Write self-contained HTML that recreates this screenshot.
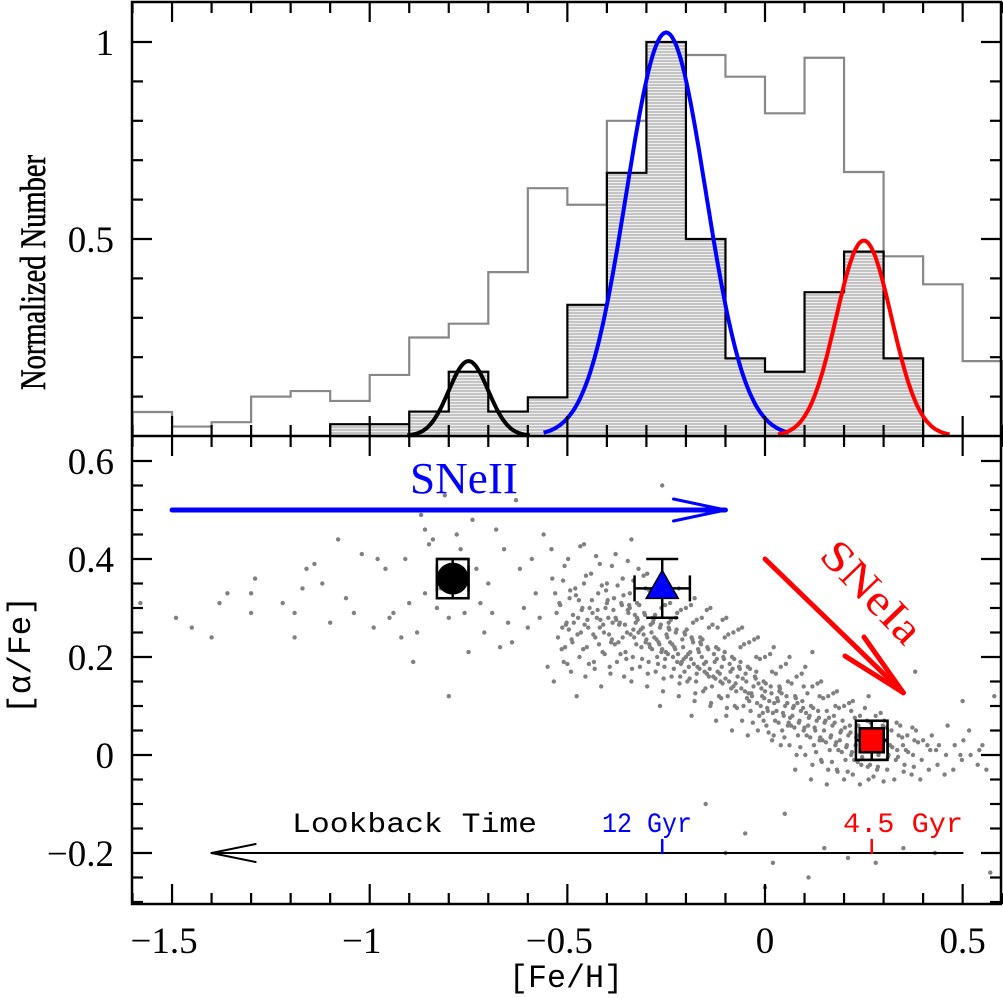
<!DOCTYPE html>
<html><head><meta charset="utf-8">
<style>
html,body{margin:0;padding:0;background:#fff;}
svg{display:block;}
text{font-family:"Liberation Serif",serif;}
.mono{font-family:"Liberation Mono",monospace;}
</style></head>
<body>
<svg id="chart" width="1003" height="998" viewBox="0 0 1003 998" xmlns="http://www.w3.org/2000/svg">
<defs>
<pattern id="hatch" patternUnits="userSpaceOnUse" width="8" height="3">
<rect width="8" height="3" fill="#c4c4c4"/><rect y="2" width="8" height="1" fill="#eeeeee"/>
</pattern>
</defs>
<g id="top-panel"></g>
<g id="bottom-panel"></g>
<g id="axes"></g>
</svg>
<script>
// ---------- data ----------
const histStart = -1.6;
const histBinWidth = 0.1;
const fullSampleHist = [0.061,0.024,0.035,0.10,0.114,0.089,0.155,0.25,0.285,0.416,0.629,0.587,0.80,0.95,0.967,0.912,0.819,0.96,0.67,0.456,0.385,0.19];
const subStart = -1.1;
const subSampleHist = [0.03,0.03,0.062,0.163,0.062,0.098,0.333,0.668,1.0,0.5,0.197,0.163,0.365,0.468,0.197];
const gaussCenters = [-0.75,-0.25,0.25];
const gaussAmps = [0.19,1.024,0.496];
const gaussSigmas = [0.05,0.1,0.07];
const gaussColors = ["#000","#0000ff","#ff0000"];
const xTicks = [-1.5,-1,-0.5,0,0.5];
const xTickLabels = ["\u22121.5","\u22121","\u22120.5","0","0.5"];
const topYTicks = [0.5,1];
const topYTickLabels = ["0.5","1"];
const botYTicks = [-0.2,0,0.2,0.4,0.6];
const botYTickLabels = ["\u22120.2","0","0.2","0.4","0.6"];
const sparseStars = [[-1.58,0.31],[-1.49,0.28],[-1.45,0.26],[-1.40,0.24],[-1.38,0.31],[-1.36,0.33],[-1.30,0.33],[-1.30,0.29],[-1.29,0.36],[-1.22,0.31],[-1.19,0.29],[-1.19,0.24],[-1.17,0.34],[-1.16,0.38],[-1.14,0.39],[-1.12,0.35],[-1.10,0.27],[-1.08,0.44],[-1.06,0.32],[-1.04,0.29],[-1.02,0.41],[-1.00,0.50],[-0.99,0.26],[-0.98,0.40],[-0.96,0.38],[-0.95,0.28],[-0.94,0.29],[-0.92,0.24],[-0.91,0.40],[-0.90,0.31],[-0.89,0.19],[-0.88,0.25],[-0.87,0.49],[-0.86,0.46],[-0.86,0.33],[-0.85,0.43],[-0.84,0.44],[-0.83,0.30],[-0.82,0.34],[-0.81,0.53],[-0.80,0.28],[-0.78,0.45],[-0.77,0.42],[-0.75,0.21],[-0.74,0.48],[-0.73,0.38],[-0.72,0.31],[-0.71,0.25],[-0.70,0.50],[-0.69,0.29],[-0.68,0.46],[-0.67,0.22],[-0.66,0.42],[-0.65,0.27],[-0.64,0.23],[-0.63,0.52],[-0.62,0.38],[-0.61,0.30],[-0.60,0.26],[-0.80,0.12],[-0.58,0.33],[-0.57,0.28],[-0.56,0.45],[-0.55,0.18],[-0.59,0.40],[-0.54,0.42],[-0.70,0.35],[-0.76,0.29],
[0.02,-0.22],[-0.10,-0.20],[0.15,-0.19],[0.21,-0.21],[0.35,-0.19],[0.43,-0.20],[0.57,-0.24],[-0.05,-0.16],[0.00,-0.27],[0.11,-0.25],[-0.26,0.55],[0.55,0.02],[0.58,0.12],[0.50,0.11],[0.38,0.17],[0.12,0.21],[-0.15,-0.10],[0.05,-0.12],[0.28,-0.22]];
const binFeH = [-0.52,-0.48,-0.44,-0.40,-0.36,-0.32,-0.28,-0.24,-0.20,-0.16,-0.12,-0.08,-0.04,0.00,0.04,0.08,0.12,0.16,0.20,0.24,0.28,0.32,0.36,0.40,0.44,0.48,0.52,0.56];
const binAlpha = [
[0.36,0.31,0.27,0.24,0.22,0.29,0.19,0.33,0.26,0.15],
[0.40,0.34,0.30,0.27,0.25,0.23,0.20,0.17,0.28,0.32,0.12],
[0.43,0.37,0.33,0.30,0.28,0.26,0.24,0.22,0.19,0.16,0.29,0.35],
[0.39,0.35,0.32,0.30,0.27,0.25,0.23,0.21,0.18,0.14,0.28,0.26,0.31],
[0.41,0.36,0.33,0.31,0.29,0.27,0.25,0.23,0.21,0.19,0.16,0.28,0.24,0.30],
[0.44,0.38,0.34,0.31,0.29,0.27,0.26,0.24,0.22,0.20,0.18,0.15,0.25,0.23,0.28],
[0.37,0.33,0.30,0.28,0.26,0.25,0.23,0.22,0.20,0.19,0.17,0.14,0.24,0.21,0.27,0.10],
[0.35,0.31,0.29,0.27,0.25,0.24,0.22,0.21,0.20,0.18,0.16,0.13,0.23,0.19,0.26,0.28],
[0.34,0.30,0.27,0.25,0.24,0.22,0.21,0.19,0.18,0.16,0.15,0.12,0.20,0.23,0.17,0.08],
[0.32,0.28,0.26,0.24,0.22,0.21,0.19,0.18,0.17,0.15,0.13,0.11,0.20,0.16,0.23],
[0.30,0.26,0.24,0.22,0.20,0.19,0.18,0.16,0.15,0.14,0.12,0.10,0.17,0.21,0.07],
[0.28,0.25,0.22,0.20,0.18,0.17,0.16,0.15,0.13,0.12,0.10,0.08,0.14,0.19,0.05],
[0.26,0.23,0.20,0.18,0.16,0.15,0.14,0.13,0.12,0.10,0.09,0.07,0.11,0.17,0.04],
[0.24,0.20,0.17,0.15,0.14,0.12,0.11,0.10,0.09,0.08,0.06,0.05,0.13,0.03,0.07],
[0.22,0.18,0.15,0.13,0.12,0.11,0.10,0.09,0.08,0.07,0.05,0.04,0.02,0.06,0.14],
[0.20,0.16,0.14,0.12,0.11,0.10,0.09,0.08,0.07,0.06,0.04,0.02,0.00,0.05,-0.03],
[0.18,0.14,0.12,0.10,0.09,0.08,0.07,0.06,0.05,0.04,0.02,0.00,-0.02,0.03,-0.05],
[0.15,0.12,0.10,0.09,0.08,0.07,0.06,0.05,0.04,0.03,0.01,-0.01,-0.03,0.02,-0.06],
[0.13,0.10,0.09,0.07,0.06,0.05,0.04,0.03,0.02,0.01,-0.01,-0.03,-0.05,0.00],
[0.11,0.08,0.07,0.06,0.05,0.04,0.03,0.02,0.01,-0.01,-0.02,-0.04,-0.06],
[0.12,0.08,0.06,0.05,0.04,0.03,0.02,0.01,0.00,-0.02,-0.03,-0.05],
[0.07,0.05,0.04,0.02,0.01,0.00,-0.01,-0.03,-0.05,0.03],
[0.06,0.04,0.03,0.01,0.00,-0.02,-0.04,0.02],
[0.05,0.03,0.01,-0.01,-0.03,-0.05,0.02],
[0.04,0.02,0.00,-0.02,-0.04,0.01],
[0.06,0.02,-0.01,-0.03,0.00],
[0.03,0.00,-0.02,0.05],
[0.01,-0.03]];
const binFeH2 = [-0.50,-0.46,-0.42,-0.38,-0.34,-0.30,-0.26,-0.22,-0.18,-0.14,-0.10,-0.06,-0.02,0.02,0.06,0.10,0.14,0.18,0.22,0.26,0.30,0.34,0.38];
const binAlpha2 = [
[0.38,0.33,0.30,0.26,0.23,0.21,0.18,0.28,0.35,0.25],
[0.42,0.36,0.32,0.29,0.27,0.24,0.21,0.18,0.31,0.26],
[0.40,0.34,0.31,0.29,0.26,0.24,0.22,0.20,0.17,0.27,0.33],
[0.38,0.34,0.31,0.29,0.26,0.24,0.22,0.20,0.16,0.27,0.30,0.23],
[0.39,0.35,0.32,0.30,0.28,0.26,0.24,0.22,0.19,0.17,0.27,0.29,0.25],
[0.36,0.33,0.30,0.28,0.26,0.25,0.23,0.21,0.19,0.16,0.27,0.24,0.22],
[0.33,0.30,0.28,0.26,0.24,0.23,0.21,0.20,0.18,0.15,0.25,0.22,0.19],
[0.32,0.29,0.27,0.25,0.23,0.22,0.20,0.19,0.17,0.14,0.24,0.21,0.18],
[0.30,0.27,0.25,0.23,0.21,0.20,0.18,0.17,0.15,0.12,0.22,0.19,0.16],
[0.29,0.26,0.23,0.21,0.20,0.18,0.17,0.15,0.13,0.10,0.19,0.16],
[0.27,0.24,0.21,0.19,0.18,0.16,0.15,0.13,0.11,0.09,0.17,0.14],
[0.25,0.22,0.19,0.17,0.16,0.14,0.13,0.11,0.09,0.15,0.12],
[0.23,0.19,0.17,0.15,0.13,0.12,0.10,0.08,0.06,0.14,0.11],
[0.20,0.16,0.14,0.12,0.11,0.09,0.08,0.06,0.04,0.10,0.13],
[0.18,0.14,0.12,0.10,0.09,0.08,0.06,0.05,0.03,0.07,0.11],
[0.16,0.12,0.10,0.09,0.07,0.06,0.05,0.03,0.01,0.08],
[0.14,0.11,0.09,0.07,0.06,0.05,0.03,0.02,0.00,-0.02],
[0.12,0.09,0.07,0.06,0.04,0.03,0.02,0.00,-0.02,-0.04],
[0.10,0.07,0.05,0.04,0.03,0.01,0.00,-0.02,-0.04],
[0.09,0.06,0.04,0.02,0.01,-0.01,-0.03,-0.05],
[0.08,0.05,0.03,0.01,-0.01,-0.03,-0.06],
[0.06,0.03,0.01,-0.01,-0.04],
[0.05,0.02,0.00,-0.03]];
const markerFeH = [-0.79,-0.26,0.27];
const markerAlpha = [0.36,0.34,0.03];
const markerErrFeH = [0.04,0.07,0.04];
const markerErrAlpha = [0.04,0.06,0.04];

// ---------- scales ----------
const X = f => 765 + f*395.3;
const YT = v => 436 - v*394;
const YB = a => 755 - a*490;
const NS = "http://www.w3.org/2000/svg";
function mk(tag, attrs, parent){
  const e = document.createElementNS(NS, tag);
  for (const k in attrs) e.setAttribute(k, attrs[k]);
  parent.appendChild(e);
  return e;
}
const topG = document.getElementById('top-panel');
const botG = document.getElementById('bottom-panel');
const axesG = document.getElementById('axes');

// ---------- histograms ----------
function stepPath(start, vals, closed){
  let d = "M" + X(start) + "," + YT(0);
  vals.forEach((v,i)=>{
    const x0 = X(start + i*histBinWidth), x1 = X(start + (i+1)*histBinWidth);
    d += " L" + x0 + "," + YT(v) + " L" + x1 + "," + YT(v);
  });
  d += " L" + X(start + vals.length*histBinWidth) + "," + YT(0);
  if (closed) d += " Z";
  return d;
}
let gp = mk('path', {d: stepPath(histStart, fullSampleHist, false), fill:'none', stroke:'#888', 'stroke-width':2.2}, topG);


let bp = mk('path', {d: stepPath(subStart, subSampleHist, true), fill:'url(#hatch)', stroke:'#000', 'stroke-width':2.2}, topG);


gaussCenters.forEach((c,i)=>{
  let d = "";
  const s = gaussSigmas[i];
  for (let k=0;k<=120;k++){
    const f = c - 3.1*s + k*(6.2*s/120);
    const v = gaussAmps[i]*Math.exp(-(f-c)*(f-c)/(2*s*s));
    d += (k?" L":"M") + X(f).toFixed(1) + "," + YT(v).toFixed(1);
  }
  const g = mk('path', {d:d, fill:'none', stroke:gaussColors[i], 'stroke-width':4}, topG);
  
  
});

// ---------- stars ----------
const starsG = mk('g', {fill:'#808080'}, botG);


function dot(f,a){
  const cx = X(f), cy = YB(a);
  if (cx < 134 || cx > 999 || cy < 438 || cy > 902) return;
  const c = mk('circle', {cx:cx.toFixed(1), cy:cy.toFixed(1), r:2.2}, starsG);
  
  
}
sparseStars.forEach(p=>dot(p[0],p[1]));
binFeH.forEach((f,b)=>{
  binAlpha[b].forEach((a,i)=>{ dot(f + ((i*5)%11 - 5)*0.0036, a); });
});
binFeH2.forEach((f,b)=>{
  binAlpha2[b].forEach((a,i)=>{ dot(f + ((i*4+3)%11 - 5)*0.0036, a + 0.006); });
});

// ---------- arrows & annotations ----------
function line(x1,y1,x2,y2,stroke,w,parent,name){
  const l = mk('line',{x1:x1,y1:y1,x2:x2,y2:y2,stroke:stroke,'stroke-width':w,'stroke-linecap':'round'},parent);
  
  
  return l;
}
line(X(-1.5),YB(0.5),X(-0.1),YB(0.5),'#0000ff',5,botG,'sneii-arrow');
line(X(-0.1),YB(0.5),X(-0.1)-52,YB(0.5)-11,'#0000ff',3,botG,'sneii-arrow-head');
line(X(-0.1),YB(0.5),X(-0.1)-52,YB(0.5)+11,'#0000ff',3,botG,'sneii-arrow-head');
line(X(0),YB(0.4),X(0.35),YB(0.127),'#ff0000',5,botG,'sneia-arrow');
line(X(0.35),YB(0.127),845,656,'#ff0000',5,botG,'sneia-arrow-head');
line(X(0.35),YB(0.127),864,637,'#ff0000',5,botG,'sneia-arrow-head');
line(X(-1.4),YB(-0.2),X(0.5),YB(-0.2),'#000',2,botG,'lookback-arrow');
line(X(-1.4),YB(-0.2),X(-1.4)+44,YB(-0.2)-9,'#000',2,botG,'lookback-arrow-head');
line(X(-1.4),YB(-0.2),X(-1.4)+44,YB(-0.2)+9,'#000',2,botG,'lookback-arrow-head');
line(X(-0.26),YB(-0.2)-13,X(-0.26),YB(-0.2),'#0000ff',2.5,botG,'age-tick-12gyr');
line(X(0.27),YB(-0.2)-13,X(0.27),YB(-0.2),'#ff0000',2.5,botG,'age-tick-4-5gyr');

// ---------- markers ----------
function errBars(i, box){
  const cx = X(markerFeH[i]), cy = YB(markerAlpha[i]);
  const x0 = X(markerFeH[i]-markerErrFeH[i]), x1 = X(markerFeH[i]+markerErrFeH[i]);
  const y0 = YB(markerAlpha[i]+markerErrAlpha[i]), y1 = YB(markerAlpha[i]-markerErrAlpha[i]);
  const g = mk('g',{stroke:'#000','stroke-width':2.5,fill:'none'},botG);
  
  
  mk('line',{x1:cx,y1:y0,x2:cx,y2:y1},g);
  mk('line',{x1:x0,y1:cy,x2:x1,y2:cy},g);
  mk('line',{x1:cx-16,y1:y0,x2:cx+16,y2:y0},g);
  mk('line',{x1:cx-16,y1:y1,x2:cx+16,y2:y1},g);
  mk('line',{x1:x0,y1:cy-13,x2:x0,y2:cy+13},g);
  mk('line',{x1:x1,y1:cy-13,x2:x1,y2:cy+13},g);
  if (box) mk('rect',{x:x0,y:y0,width:x1-x0,height:y1-y0},g);
  return [cx,cy];
}
let pt = errBars(0,true);
let mm = mk('circle',{cx:pt[0],cy:pt[1],r:16,fill:'#000'},botG);


pt = errBars(1,false);
mm = mk('polygon',{points:(pt[0]-16)+","+(pt[1]+10)+" "+(pt[0]+16)+","+(pt[1]+10)+" "+pt[0]+","+(pt[1]-18),fill:'#0000ff',stroke:'#000','stroke-width':1.5},botG);


pt = errBars(2,true);
mm = mk('rect',{x:pt[0]-12,y:pt[1]-12,width:24,height:24,fill:'#ff0000',stroke:'#000','stroke-width':2.5},botG);



// ---------- frame & ticks ----------
const frame = mk('rect',{x:132,y:2,width:869,height:902,fill:'none',stroke:'#000','stroke-width':2.5},axesG);


line(132,436,1001,436,'#000',2.5,axesG,'panel-divider');
const tg = mk('g',{stroke:'#000','stroke-width':2.2},axesG);


for (let k=-16;k<=6;k++){
  const x = X(k/10), L = (k%5===0)?20:11;
  mk('line',{x1:x,y1:2,x2:x,y2:2+L},tg);
  mk('line',{x1:x,y1:436,x2:x,y2:436-L},tg);
  mk('line',{x1:x,y1:436,x2:x,y2:436+L},tg);
  mk('line',{x1:x,y1:904,x2:x,y2:904-L},tg);
}
for (let k=1;k<=10;k++){
  const y = YT(k/10), L = (k%5===0)?20:11;
  mk('line',{x1:132,y1:y,x2:132+L,y2:y},tg);
  mk('line',{x1:1001,y1:y,x2:1001-L,y2:y},tg);
}
for (let k=-6;k<=12;k++){
  const y = YB(k/20), L = (k%4===0)?20:11;
  if (y<438||y>902) continue;
  mk('line',{x1:132,y1:y,x2:132+L,y2:y},tg);
  mk('line',{x1:1001,y1:y,x2:1001-L,y2:y},tg);
}
function txt(s, attrs, parent, name){
  const t = mk('text', attrs, parent);
  t.textContent = s;
  
  
  return t;
}
xTicks.forEach((v,i)=>txt(xTickLabels[i],{x:X(v)-(v<0?8:0),y:953,'font-size':37,'text-anchor':'middle'},axesG,'x-tick-label'));
topYTicks.forEach((v,i)=>txt(topYTickLabels[i],{x:114,y:YT(v)+13,'font-size':37,'text-anchor':'end'},axesG,'top-y-tick-label'));
botYTicks.forEach((v,i)=>txt(botYTickLabels[i],{x:114,y:YB(v)+13,'font-size':37,'text-anchor':'end'},axesG,'bottom-y-tick-label'));

txt('[Fe/H]',{x:509,y:987,'font-size':32,textLength:114,lengthAdjust:'spacingAndGlyphs',class:'mono'},axesG,'x-axis-title');
txt('Normalized Number',{x:0,y:0,'font-size':36,textLength:235,lengthAdjust:'spacingAndGlyphs',stroke:'#000','stroke-width':0.6,transform:'translate(45,390) rotate(-90)'},axesG,'top-y-axis-title');
txt('[\u03b1/Fe]',{x:0,y:0,'font-size':32,textLength:118,lengthAdjust:'spacingAndGlyphs',class:'mono',transform:'translate(30,714) rotate(-90)'},axesG,'bottom-y-axis-title');
txt('SNeII',{x:410,y:493,'font-size':44,fill:'#0000ff',textLength:108,lengthAdjust:'spacingAndGlyphs'},botG,'sneii-label');
txt('SNeIa',{x:0,y:0,'font-size':44,fill:'#ff0000',textLength:125,lengthAdjust:'spacingAndGlyphs',transform:'translate(818,557) rotate(46)'},botG,'sneia-label');
txt('Lookback Time',{x:292,y:832,'font-size':28,textLength:245,lengthAdjust:'spacingAndGlyphs',class:'mono'},botG,'lookback-label');
txt('12 Gyr',{x:602,y:832,'font-size':28,fill:'#0000ff',textLength:90,lengthAdjust:'spacingAndGlyphs',class:'mono'},botG,'age-label-12gyr');
txt('4.5 Gyr',{x:843,y:832,'font-size':28,fill:'#ff0000',textLength:120,lengthAdjust:'spacingAndGlyphs',class:'mono'},botG,'age-label-4-5gyr');
</script>
</body></html>
